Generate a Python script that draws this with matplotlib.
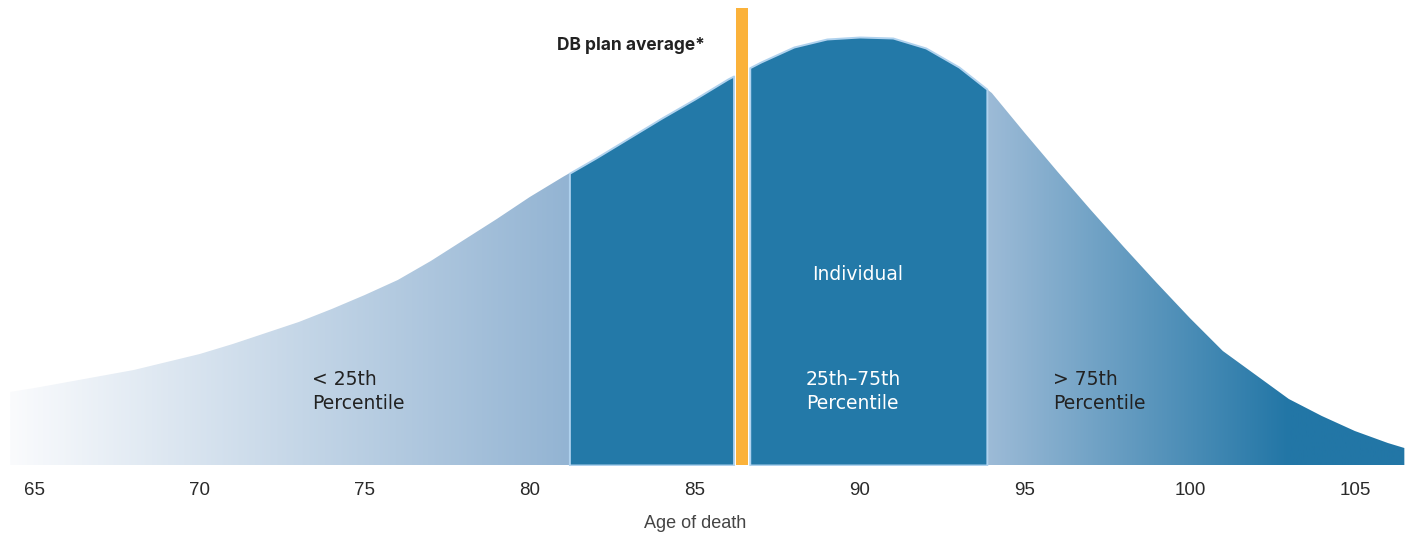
import numpy as np
import matplotlib.pyplot as plt
from matplotlib.colors import LinearSegmentedColormap

# distribution of age of death (share of deaths, % per year of age)
ages = [64.25, 65, 66, 67, 68, 69, 70, 71, 72, 73, 74, 75, 76, 77, 78, 79, 80,
        81, 82, 83, 84, 85, 86, 87, 88, 89, 90, 91, 92, 93, 94, 95, 96, 97,
        98, 99, 100, 101, 102, 103, 104, 105, 106, 106.5]
share = [0.73, 0.77, 0.83, 0.89, 0.95, 1.03, 1.11, 1.21, 1.32, 1.43, 1.56,
         1.70, 1.85, 2.04, 2.25, 2.46, 2.68, 2.88, 3.07, 3.27, 3.47, 3.66,
         3.86, 4.03, 4.18, 4.26, 4.28, 4.27, 4.17, 3.98, 3.72, 3.32, 2.93,
         2.55, 2.18, 1.82, 1.47, 1.14, 0.90, 0.66, 0.49, 0.34, 0.22, 0.17]

p25_age = 81.2
p75_age = 93.85
db_avg_age = 86.42
tick_ages = [65, 70, 75, 80, 85, 90, 95, 100, 105]

mid_blue = '#2379a8'
edge_blue = '#b0d2ee'
orange = '#fbb23a'

ages = np.array(ages)
share = np.array(share)
top = 4.65


def segment(a, b):
    inner = ages[(ages > a) & (ages < b)]
    xs = np.concatenate([[a], inner, [b]])
    return xs, np.interp(xs, ages, share)


fig = plt.figure(figsize=(14.13, 5.35), dpi=100)
ax = fig.add_axes([10 / 1413, 70 / 535, 1395 / 1413, 465 / 535])

# left tail: fades from white into light blue
left_cmap = LinearSegmentedColormap.from_list('left', ['#fafbfd', '#93b4d3'])
xs, ys = segment(ages[0], p25_age)
clip = ax.fill_between(xs, 0, ys, facecolor='none', edgecolor='none')
im = ax.imshow(np.linspace(0, 1, 256).reshape(1, -1), cmap=left_cmap,
               extent=[ages[0], p25_age, 0, top], aspect='auto', zorder=1)
im.set_clip_path(clip.get_paths()[0], transform=ax.transData)

# right tail: light blue darkening towards the end
stop = (103 - p75_age) / (ages[-1] - p75_age)
right_cmap = LinearSegmentedColormap.from_list(
    'right', [(0, '#9dbbd7'), (stop, '#2276a6'), (1, '#2276a6')])
xs, ys = segment(p75_age, ages[-1])
clip = ax.fill_between(xs, 0, ys, facecolor='none', edgecolor='none')
im = ax.imshow(np.linspace(0, 1, 256).reshape(1, -1), cmap=right_cmap,
               extent=[p75_age, ages[-1], 0, top], aspect='auto', zorder=1)
im.set_clip_path(clip.get_paths()[0], transform=ax.transData)

# interquartile range, split around the DB plan average
gap = 0.245
for a, b in [(p25_age, db_avg_age - gap), (db_avg_age + gap, p75_age)]:
    xs, ys = segment(a, b)
    ax.fill_between(xs, 0, ys, facecolor=mid_blue, edgecolor=edge_blue,
                    linewidth=1.4, zorder=2)

ax.bar(db_avg_age, 4.57, width=0.36, color=orange, zorder=3)

ax.text(85.3, 4.2, 'DB plan average*', ha='right', va='center',
        fontsize=12.5, fontweight='bold', color='#222222', family='Inter')
ax.text(89.94, 1.91, 'Individual', ha='center', va='center', fontsize=13.5,
        color='white', family='DejaVu Sans')
ax.text(73.39, 0.95, '< 25th\nPercentile', ha='left', va='top', fontsize=13.5,
        color='#222222', family='DejaVu Sans', linespacing=1.35)
ax.text(88.36, 0.95, '25th\u201375th\nPercentile', ha='left', va='top',
        fontsize=13.5, color='white', family='DejaVu Sans', linespacing=1.35)
ax.text(95.85, 0.95, '> 75th\nPercentile', ha='left', va='top', fontsize=13.5,
        color='#222222', family='DejaVu Sans', linespacing=1.35)

ax.set_xlim(ages[0], 106.52)
ax.set_ylim(0, top)
ax.set_xticks(tick_ages)
ax.set_xticklabels([str(t) for t in tick_ages], family='Liberation Sans')
ax.tick_params(axis='x', length=0, pad=12, labelsize=13.5, labelcolor='#2a2a2a')
ax.set_yticks([])
for s in ax.spines.values():
    s.set_visible(False)
ax.set_xlabel('Age of death', fontsize=13, color='#444444',
              family='Liberation Sans')
ax.xaxis.set_label_coords(685 / 1395, -50 / 465)

fig.savefig('out.png', dpi=100)
